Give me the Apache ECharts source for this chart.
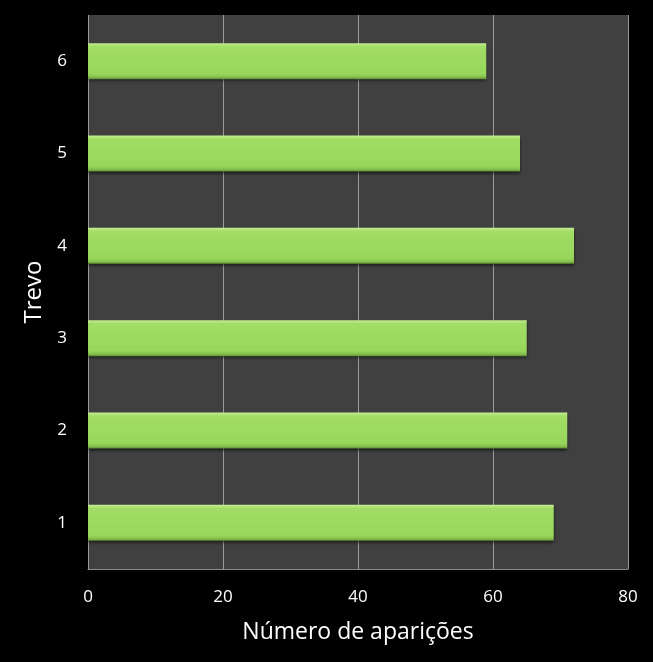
<!DOCTYPE html>
<html><head><meta charset="utf-8">
<script src="https://cdn.jsdelivr.net/npm/echarts@6/dist/echarts.min.js"></script>
<style>html,body{margin:0;padding:0;background:#000;}#c{width:653px;height:662px;}</style>
</head><body><div id="c"></div>
<script>
var categories = ['1','2','3','4','5','6'];
var values = [69, 71, 65, 72, 64, 59];
var xTicks = [0, 20, 40, 60, 80];
var xTitle = 'Número de aparições';
var yTitle = 'Trevo';

var chart = echarts.init(document.getElementById('c'));
var font = '"Open Sans", "Liberation Sans", sans-serif';
chart.setOption({
  backgroundColor: '#000000',
  animation: false,
  grid: {left: 88, right: 25, top: 15, bottom: 93, show: true, backgroundColor: '#404040', borderWidth: 0},
  xAxis: {
    type: 'value', min: xTicks[0], max: xTicks[xTicks.length-1], interval: 20,
    name: xTitle, nameLocation: 'middle', nameGap: 52,
    nameTextStyle: {color: '#ffffff', fontSize: 23, fontFamily: font},
    axisLine: {show: true, lineStyle: {color: '#8a8a8a', width: 1}},
    axisTick: {show: false},
    axisLabel: {color: '#ffffff', fontSize: 17, fontFamily: font, margin: 20},
    splitLine: {show: true, lineStyle: {color: '#9a9a9a', width: 1}}
  },
  yAxis: {
    type: 'category', data: categories,
    name: yTitle, nameLocation: 'middle', nameGap: 36, nameRotate: 90,
    nameTextStyle: {color: '#ffffff', fontSize: 24, fontFamily: font},
    axisLine: {show: false}, axisTick: {show: false},
    axisLabel: {color: '#ffffff', fontSize: 17, fontFamily: font, margin: 21},
    splitLine: {show: false}
  },
  series: [{
    type: 'bar', data: values, barWidth: 36,
    itemStyle: {
      color: new echarts.graphic.LinearGradient(0, 0, 0, 1, [
        {offset: 0, color: '#c6ee92'},
        {offset: 0.1, color: '#a2dd66'},
        {offset: 0.85, color: '#97d65b'},
        {offset: 0.94, color: '#86c04e'},
        {offset: 1, color: '#5f8a35'}
      ]),
      shadowColor: 'rgba(0,0,0,0.6)', shadowBlur: 3, shadowOffsetY: 2
    }
  }]
});
</script></body></html>
